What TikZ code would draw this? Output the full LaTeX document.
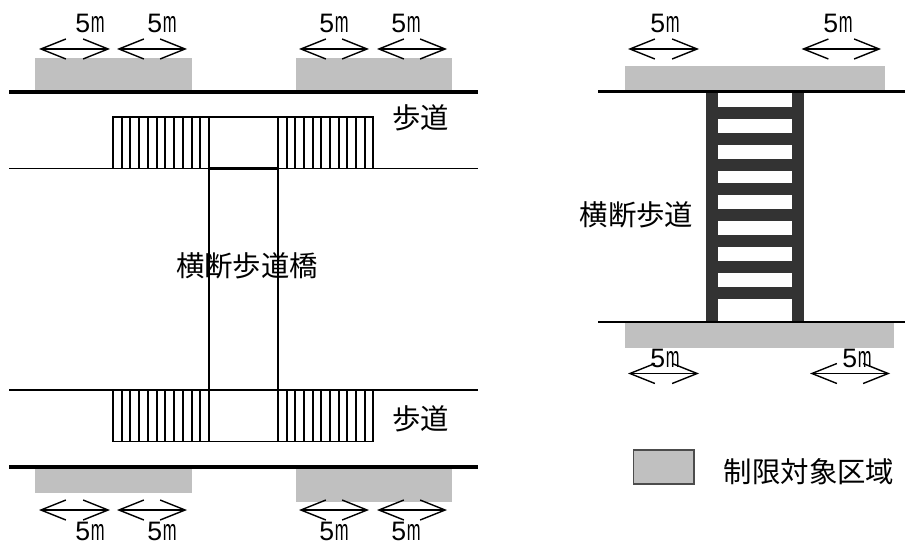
\documentclass[tikz,border=0pt]{standalone}
\usepackage{fontspec}
\setmainfont{Noto Sans CJK JP}
\newfontfamily\latinfont{Liberation Sans}
\usetikzlibrary{arrows.meta}
\newcommand{\fivem}{5\hspace{0.6pt}\scalebox{0.62}[1.12]{m}}
\tikzset{
  x=0.75pt,y=-0.75pt,
  zone/.style={fill=zonegray,draw=none},
  roadthick/.style={line width=2.4pt,black},
  roadthin/.style={line width=1.25pt,black},
  roadmid/.style={line width=1.6pt,black},
  stair/.style={line width=1.3pt,black},
  span/.style={line width=1.1pt,black,{Straight Barb[length=18.75pt,width=15pt,line width=1.05pt]}-{Straight Barb[length=18.75pt,width=15pt,line width=1.05pt]}},
  dim/.style={inner sep=0pt,font=\latinfont\fontsize{20}{20}\selectfont},
  jp/.style={inner sep=0pt,font=\fontsize{21.3}{21.3}\selectfont},
  post/.style={fill=laddergray,draw=none},
}
\definecolor{zonegray}{HTML}{C0C0C0}
\definecolor{laddergray}{HTML}{333333}
\begin{document}
\begin{tikzpicture}
\useasboundingbox (0,0) rectangle (905,545);
% left: restricted zones
\fill[zone] (35,58) rectangle (192,91);
\fill[zone] (296,58) rectangle (452,91);
\fill[zone] (35,468) rectangle (192,493);
\fill[zone] (296,468) rectangle (452,502);
% left: roads
\coordinate (rl1) at (9,92); \coordinate (rr1) at (478,92);
\coordinate (rl2) at (9,168.5); \coordinate (rr2) at (478,168.5);
\coordinate (rl3) at (9,390); \coordinate (rr3) at (478,390);
\coordinate (rl4) at (9,467); \coordinate (rr4) at (478,467);
\draw[roadthick] (rl1) -- (rr1);
\draw[roadthin] (rl2) -- (rr2);
\draw[roadthin] (rl3) -- (rr3);
\draw[roadthick] (rl4) -- (rr4);
% left: bridge stairs
\foreach \ya/\yb in {117/168.5,390/441.5}{
  \draw[stair] (113.3,\ya) rectangle (373.3,\yb);
  \foreach \xx in {121.7,130,139,147.7,156.7,165,174,183,191.7,200,208.7,277.7,286.7,295,304,312.7,321,330,338.7,347,356,364.7}
    \draw[stair] (\xx,\ya) -- (\xx,\yb);
}
\draw[stair] (208.7,168.5) -- (208.7,390);
\draw[stair] (277.7,168.5) -- (277.7,390);
\draw[roadmid] (208.7,168.5) -- (277.7,168.5);
\draw[roadmid] (208.7,390) -- (277.7,390);
% left: spans
\foreach \xa/\xb in {39/110,117/187,299/369,377/447}{
  \coordinate (sa) at (\xa,49); \coordinate (sb) at (\xb,49);
  \draw[span] (sa) -- (sb);
  \coordinate (ta) at (\xa,510); \coordinate (tb) at (\xb,510);
  \draw[span] (ta) -- (tb);
}
\foreach \xx in {90,162,334,406}{
  \node[dim] at (\xx,23) {\fivem};
  \node[dim] at (\xx,531) {\fivem};
}
\node[jp] (sw1) at (420.5,118) {歩道};
\node[jp] (sw2) at (420.5,419) {歩道};
\node[jp] (br) at (247,266) {横断歩道橋};
% right
\fill[zone] (625,66) rectangle (885,91);
\fill[zone] (625,323) rectangle (894,348);
\foreach \yy in {107.3,133,158.7,183.5,209.3,235.3,261,286.7}
  \fill[post] (717,\yy) rectangle (792,\yy+12);
\fill[post] (705.5,92) rectangle (717.5,322);
\fill[post] (792,92) rectangle (804,322);
\coordinate (rl5) at (598,91.5); \coordinate (rr5) at (905,91.5);
\coordinate (rl6) at (598,322); \coordinate (rr6) at (905,322);
\draw[roadmid] (rl5) -- (rr5);
\draw[roadmid] (rl6) -- (rr6);
\coordinate (a1) at (628,49); \coordinate (a2) at (699,49);
\coordinate (a3) at (801.5,49); \coordinate (a4) at (881,49);
\coordinate (a5) at (628,373.5); \coordinate (a6) at (699,373.5);
\coordinate (a7) at (810,373.5); \coordinate (a8) at (890,373.5);
\draw[span] (a1) -- (a2);
\draw[span] (a3) -- (a4);
\draw[span] (a5) -- (a6);
\draw[span] (a7) -- (a8);
\node[dim] at (665,23) {\fivem};
\node[dim] at (838,23) {\fivem};
\node[dim] at (665,358.5) {\fivem};
\node[dim] at (857,358.5) {\fivem};
\node[jp] (cw) at (636.5,215) {横断歩道};
% legend
\draw[fill=zonegray,draw=black!70,line width=0.85pt] (633.5,450) rectangle (694,484);
\node[jp] (lg) at (809,472) {制限対象区域};
\end{tikzpicture}
\end{document}
